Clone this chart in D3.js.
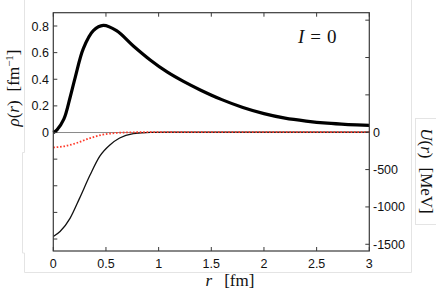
<!DOCTYPE html>
<html>
<head>
<meta charset="utf-8">
<script src="https://cdn.jsdelivr.net/npm/d3@7"></script>
<style>
  body { margin: 0; background: #fff; }
  svg { display: block; }
</style>
</head>
<body>
<svg id="chart" width="436" height="296"></svg>
<script>
// density rho(r) [fm^-1]
const rhoR = [0, 0.035, 0.1, 0.16, 0.21, 0.285, 0.38, 0.475, 0.6, 0.76, 0.92, 1.08, 1.24, 1.4, 1.6, 1.8, 2.0, 2.2, 2.4, 2.6, 2.8, 3.0];
const rhoV = [0, 0.02, 0.1, 0.265, 0.42, 0.63, 0.765, 0.805, 0.765, 0.65, 0.545, 0.455, 0.382, 0.318, 0.247, 0.188, 0.142, 0.108, 0.086, 0.07, 0.06, 0.053];

// potential U(r) [MeV], solid thin line
const potR = [0, 0.064, 0.16, 0.25, 0.35, 0.44, 0.54, 0.63, 0.76, 0.92, 1.1, 3.0];
const potV = [-1396, -1330, -1150, -882, -570, -324, -168, -78, -20, -2, 0, 0];

// second potential term, red dotted
const dotR = [0, 0.095, 0.22, 0.35, 0.47, 0.6, 0.76, 0.9, 3.0];
const dotV = [-204, -190, -145, -78, -33, -10, -1, 0, 0];

const xTicks = [0, 0.5, 1, 1.5, 2, 2.5, 3];
const leftTicks = [-0.8, -0.6, -0.4, -0.2, 0, 0.2, 0.4, 0.6, 0.8];
const leftLabels = [0, 0.2, 0.4, 0.6, 0.8];
const rightTicks = [-1500, -1000, -500, 0, 500, 1000, 1500];
const rightLabels = [0, -500, -1000, -1500];

const svg = d3.select("#chart");
const plot = { left: 53.3, right: 369.3, top: 12.7, bottom: 251 };
const axisColor = "#3a3a3a",
  tickLen = 4,
  tickFont = "'Liberation Sans', Arial, sans-serif",
  serif = "'Liberation Serif', 'DejaVu Serif', serif";

const x = d3.scaleLinear().domain([0, 3]).range([plot.left, plot.right]);
const yL = d3.scaleLinear().domain([-0.89, 0.9]).range([plot.bottom, plot.top]);
const yR = d3.scaleLinear().domain([-1590, 1600]).range([plot.bottom, plot.top]);

// faint frame left over from the screenshot
svg.append("path")
  .attr("d", "M24.5,0 V152.5 H22.5 V253 H24.5 V272.5 H411.5 V0")
  .attr("fill", "none")
  .attr("stroke", "#e4e4e4")
  .attr("stroke-width", 1);
svg.append("rect")
  .attr("x", 415.5).attr("y", 118.5)
  .attr("width", 22).attr("height", 106)
  .attr("fill", "#fff")
  .attr("stroke", "#e4e4e4");

// zero line
svg.append("line")
  .attr("x1", plot.left).attr("x2", plot.right)
  .attr("y1", yL(0)).attr("y2", yL(0))
  .attr("stroke", "#8a8a8a")
  .attr("stroke-width", 1);

const line = d3.line().curve(d3.curveMonotoneX);
const smooth = d3.line().curve(d3.curveCatmullRom.alpha(0.5));

// potential (thin black)
svg.append("path")
  .attr("d", line(potR.map((r, i) => [x(r), yR(potV[i])])))
  .attr("fill", "none")
  .attr("stroke", "#111")
  .attr("stroke-width", 1.3);

// red dotted
svg.append("path")
  .attr("d", line(dotR.map((r, i) => [x(r), yR(dotV[i])])))
  .attr("fill", "none")
  .attr("stroke", "#ff3a2a")
  .attr("stroke-width", 1.8)
  .attr("stroke-dasharray", "1.6,1.8");

// density (thick black)
svg.append("path")
  .attr("d", smooth(rhoR.map((r, i) => [x(r), yL(rhoV[i])])))
  .attr("fill", "none")
  .attr("stroke", "#000")
  .attr("stroke-width", 3.2)
  .attr("stroke-linejoin", "round");

// box
svg.append("rect")
  .attr("x", plot.left).attr("y", plot.top)
  .attr("width", plot.right - plot.left)
  .attr("height", plot.bottom - plot.top)
  .attr("fill", "none")
  .attr("stroke", axisColor)
  .attr("stroke-width", 1.2);

// inward ticks
const ticks = svg.append("g").attr("stroke", axisColor).attr("stroke-width", 1);
xTicks.forEach(t => {
  ticks.append("line").attr("x1", x(t)).attr("x2", x(t))
    .attr("y1", plot.bottom).attr("y2", plot.bottom - tickLen);
  ticks.append("line").attr("x1", x(t)).attr("x2", x(t))
    .attr("y1", plot.top).attr("y2", plot.top + tickLen);
});
leftTicks.forEach(t => {
  ticks.append("line").attr("x1", plot.left).attr("x2", plot.left + tickLen)
    .attr("y1", yL(t)).attr("y2", yL(t));
});
rightTicks.forEach(t => {
  ticks.append("line").attr("x1", plot.right).attr("x2", plot.right - tickLen)
    .attr("y1", yR(t)).attr("y2", yR(t));
});

// tick labels
svg.append("g").selectAll("text").data(xTicks).join("text")
  .attr("x", d => x(d)).attr("y", 268)
  .attr("text-anchor", "middle")
  .attr("font-family", tickFont).attr("font-size", 12.5)
  .attr("fill", "#111")
  .text(d => d);

svg.append("g").selectAll("text").data(leftLabels).join("text")
  .attr("x", 49).attr("y", d => yL(d) + 4.5)
  .attr("text-anchor", "end")
  .attr("font-family", tickFont).attr("font-size", 12.5)
  .attr("fill", "#111")
  .text(d => d);

svg.append("g").selectAll("text").data(rightLabels).join("text")
  .attr("x", 373).attr("y", d => yR(d) + 4.5)
  .attr("text-anchor", "start")
  .attr("font-family", tickFont).attr("font-size", 12.5)
  .attr("fill", "#111")
  .text(d => d);

// axis titles
const xTitle = svg.append("text")
  .attr("x", 230).attr("y", 286)
  .attr("text-anchor", "middle")
  .attr("font-family", serif).attr("font-size", 17)
  .attr("fill", "#111");
xTitle.append("tspan").attr("font-style", "italic").text("r");
xTitle.append("tspan").attr("dx", 12).text("[fm]");

const yTitle = svg.append("text")
  .attr("transform", "translate(19,88) rotate(-90)")
  .attr("text-anchor", "middle")
  .attr("font-family", serif).attr("font-size", 17)
  .attr("fill", "#111");
yTitle.append("tspan").attr("font-style", "italic").text("ρ");
yTitle.append("tspan").text("(");
yTitle.append("tspan").attr("font-style", "italic").text("r");
yTitle.append("tspan").text(")");
yTitle.append("tspan").attr("dx", 9).text("[fm");
yTitle.append("tspan").attr("dy", -6).attr("font-size", 11).text("−1");
yTitle.append("tspan").attr("dy", 6).text("]");

const rTitle = svg.append("text")
  .attr("transform", "translate(421,171) rotate(90)")
  .attr("text-anchor", "middle")
  .attr("font-family", serif).attr("font-size", 17)
  .attr("fill", "#111");
rTitle.append("tspan").attr("font-style", "italic").text("U");
rTitle.append("tspan").text("(");
rTitle.append("tspan").attr("font-style", "italic").text("r");
rTitle.append("tspan").text(")");
rTitle.append("tspan").attr("dx", 9).text("[MeV]");

// I = 0 annotation
const ann = svg.append("text")
  .attr("x", 298).attr("y", 43)
  .attr("font-family", serif).attr("font-size", 19)
  .attr("fill", "#111");
ann.append("tspan").attr("font-style", "italic").text("I");
ann.append("tspan").attr("dx", 6).text("=");
ann.append("tspan").attr("dx", 6).text("0");
</script>
</body>
</html>
